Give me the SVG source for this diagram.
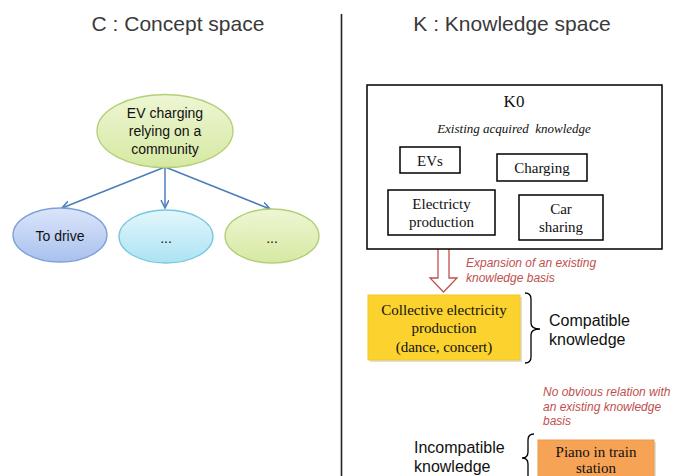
<svg xmlns="http://www.w3.org/2000/svg" width="673" height="476" viewBox="0 0 673 476">
<style>
.title{font-family:"Liberation Sans",Arial,sans-serif;font-size:21px;fill:#3a3a3a;text-anchor:middle}
.sans{font-family:"Liberation Sans",Arial,sans-serif;font-size:14px;fill:#111;text-anchor:middle}
.lbl{font-family:"Liberation Sans",Arial,sans-serif;font-size:16px;fill:#111}
.serif{font-family:"Liberation Serif","Times New Roman",serif;font-size:15px;fill:#111;text-anchor:middle}
.note{font-family:"Liberation Sans",Arial,sans-serif;font-size:12px;font-style:italic;fill:#c0504d}
.box{fill:#fff;stroke:#000;stroke-width:1.5}
.conn{stroke:#4a7ebb;stroke-width:1.5;fill:none}
.brace{fill:none;stroke:#000;stroke-width:1.3}
</style>
<defs>
<linearGradient id="gGreen" x1="0" y1="0" x2="0" y2="1"><stop offset="0" stop-color="#eef6d4"/><stop offset="1" stop-color="#d6e9a2"/></linearGradient>
<linearGradient id="gBlue" x1="0" y1="0" x2="0" y2="1"><stop offset="0" stop-color="#dbe5fa"/><stop offset="1" stop-color="#a9c1ee"/></linearGradient>
<linearGradient id="gCyan" x1="0" y1="0" x2="0" y2="1"><stop offset="0" stop-color="#e3f6fc"/><stop offset="1" stop-color="#ace3f3"/></linearGradient>
<marker id="ah" markerWidth="10" markerHeight="10" refX="8" refY="4" orient="auto" markerUnits="userSpaceOnUse"><path d="M0,0 L8,4 L0,8" fill="none" stroke="#4a7ebb" stroke-width="1.5"/></marker>
</defs>
<rect width="673" height="476" fill="#fff"/>
<text class="title" x="178" y="31">C : Concept space</text>
<text class="title" x="512" y="31">K : Knowledge space</text>
<line x1="341.5" y1="14" x2="341.5" y2="476" stroke="#222" stroke-width="1.6"/>

<g id="connectors">
<line class="conn" x1="165" y1="167" x2="62" y2="208" marker-end="url(#ah)"/>
<line class="conn" x1="165" y1="167" x2="165" y2="208" marker-end="url(#ah)"/>
<line class="conn" x1="165" y1="167" x2="270" y2="209" marker-end="url(#ah)"/>
<path d="M438,235 L449,235 L449,278 L457,278 L443.5,292 L430,278 L438,278 Z" fill="#fff" stroke="#c0504d" stroke-width="1.3"/>
</g>

<g id="root">
<ellipse cx="165" cy="131" rx="68" ry="36.5" fill="url(#gGreen)" stroke="#b3cf78" stroke-width="1.3"/>
<text class="sans" x="165" y="118">EV charging</text>
<text class="sans" x="165" y="136">relying on a</text>
<text class="sans" x="165" y="154">community</text>
</g>
<g id="drive">
<ellipse cx="60" cy="235" rx="47" ry="27" fill="url(#gBlue)" stroke="#7ea0d8" stroke-width="1.3"/>
<text class="sans" x="60" y="241">To drive</text>
</g>
<g id="dots1">
<ellipse cx="166" cy="236.5" rx="47" ry="26.5" fill="url(#gCyan)" stroke="#77c7de" stroke-width="1.3"/>
<text class="sans" x="166" y="243">...</text>
</g>
<g id="dots2">
<ellipse cx="272" cy="236" rx="47" ry="27" fill="url(#gGreen)" stroke="#b3cf78" stroke-width="1.3"/>
<text class="sans" x="272" y="243">...</text>
</g>

<g id="K0">
<rect class="box" x="367" y="85" width="295" height="164" fill="none"/>
<text x="514" y="107" style="font-family:'Liberation Serif','Times New Roman',serif;font-size:17px;fill:#111;text-anchor:middle">K0</text>
<text x="514" y="133" style="font-family:'Liberation Serif','Times New Roman',serif;font-size:13px;font-style:italic;fill:#111;text-anchor:middle">Existing acquired&#160; knowledge</text>
</g>
<g id="evs">
<rect class="box" x="400" y="147" width="60" height="26"/>
<text class="serif" x="430" y="166">EVs</text>
</g>
<g id="charging">
<rect class="box" x="497" y="154" width="90" height="27"/>
<text class="serif" x="542" y="173">Charging</text>
</g>
<g id="electricity">
<rect class="box" x="388" y="190" width="107" height="45"/>
<text class="serif" x="441.5" y="209">Electricty</text>
<text class="serif" x="441.5" y="227">production</text>
</g>
<g id="carsharing">
<rect class="box" x="519" y="195" width="84" height="45"/>
<text class="serif" x="561" y="214">Car</text>
<text class="serif" x="561" y="232">sharing</text>
</g>

<text class="note" x="466" y="267">Expansion of an existing</text>
<text class="note" x="466" y="282">knowledge basis</text>

<g id="collective">
<rect x="370" y="297" width="152" height="65" fill="#c8c8c8" opacity="0.6"/>
<rect x="368" y="295" width="152" height="65" fill="#fcd22e" stroke="#f2c820" stroke-width="1"/>
<text class="serif" x="444" y="315">Collective electricity</text>
<text class="serif" x="444" y="333">production</text>
<text class="serif" x="444" y="352">(dance, concert)</text>
</g>
<g id="compatible">
<path class="brace" d="M525,293 Q531,293 531,299 L531,323 Q531,329 540,329 Q531,329 531,335 L531,357 Q531,363 525,363"/>
<text class="lbl" x="549" y="326">Compatible</text>
<text class="lbl" x="549" y="345">knowledge</text>
</g>

<text class="note" x="543" y="396">No obvious relation with</text>
<text class="note" x="543" y="411">an existing knowledge</text>
<text class="note" x="543" y="425">basis</text>

<g id="incompatible">
<path class="brace" d="M534,434 Q528,434 528,440 L528,452 Q528,458 522,458 Q528,458 528,464 L528,476"/>
<text class="lbl" x="414" y="453">Incompatible</text>
<text class="lbl" x="414" y="472">knowledge</text>
</g>
<g id="piano">
<rect x="540" y="442" width="116" height="40" fill="#c8c8c8" opacity="0.6"/>
<rect x="538" y="440" width="116" height="40" fill="#f6a355" stroke="#eb9a4c" stroke-width="1"/>
<text class="serif" x="596" y="457">Piano in train</text>
<text class="serif" x="596" y="473">station</text>
</g>
</svg>
